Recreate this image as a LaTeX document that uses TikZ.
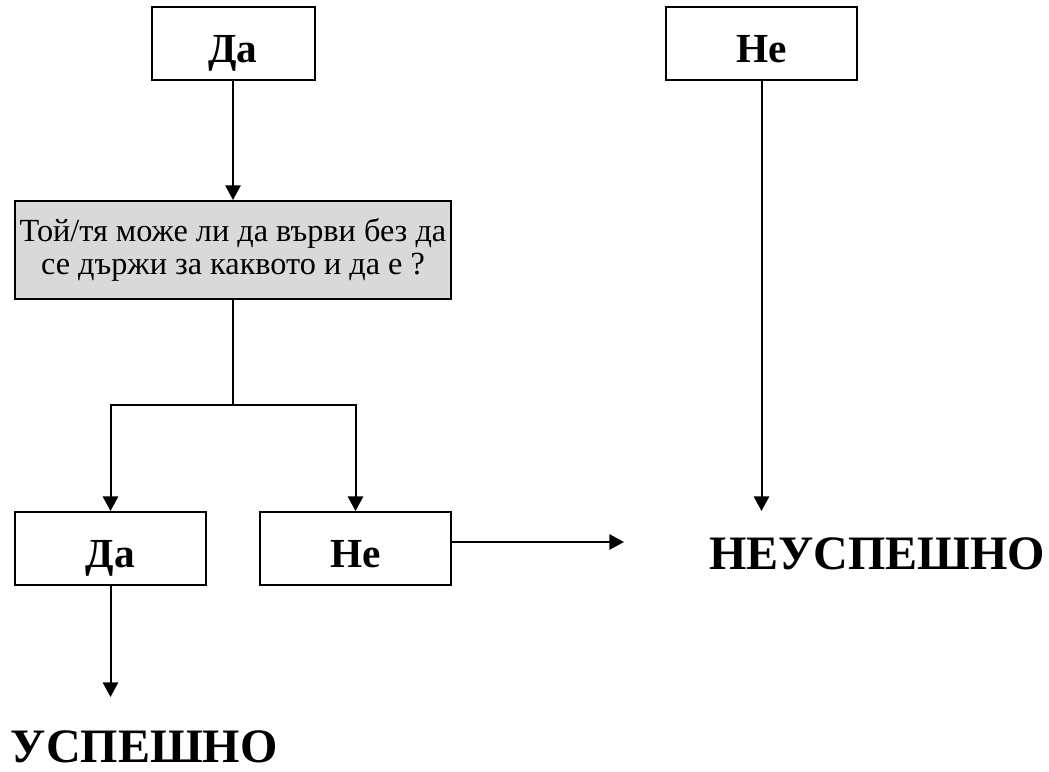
\documentclass[tikz,border=0pt]{standalone}
\usepackage{fontspec}
\setmainfont{Liberation Serif}
\usetikzlibrary{arrows.meta}
\begin{document}
\begin{tikzpicture}[x=0.75pt,y=-0.75pt,
  line width=1.5pt,
  arr/.style={-{Triangle[length=11pt,width=11.5pt]}},
  box/.style={draw,line width=1.5pt,inner sep=0pt,minimum height=54.75pt,
    text height=31.75pt,text depth=4pt,
    font=\fontsize{31}{34}\selectfont\bfseries},
  question/.style={draw,line width=1.5pt,fill=black!15,inner sep=0pt,
    minimum width=327pt,minimum height=73.5pt,align=center,
    font=\fontsize{24.2}{25}\selectfont},
  result/.style={inner sep=0pt,text depth=0pt,
    font=\fontsize{36}{40}\selectfont\bfseries}]
\useasboundingbox (0,0) rectangle (1049,771);

% boxes
\node[box,minimum width=122.25pt] (daTop) at (233,43.5) {Да};
\node[box,minimum width=143.25pt] (neTop) at (761.5,43.5) {Не};
\node[question] (q) at (233,250) {Той/тя може ли да върви без да\\се държи за каквото и да е ?};
\node[box,minimum width=143.25pt] (daBot) at (110.5,548.5) {Да};
\node[box,minimum width=143.25pt] (neBot) at (355.5,548.5) {Не};

% outcomes
\node[result,anchor=base west] (fail) at (708,569) {НЕУСПЕШНО};
\node[result,anchor=base west] (success) at (10,762) {УСПЕШНО};

% free ends of the connectors
\coordinate (split) at (233,405);
\coordinate (failTop) at (761.5,511);
\coordinate (failLeft) at (624,542);
\coordinate (successTop) at (110.5,697);

% connectors
\draw[arr] (daTop.south) -- (daTop.south |- q.north);
\draw (q.south) -- (split);
\draw[arr] (split) -| (daBot.north);
\draw[arr] (split) -| (neBot.north);
\draw[arr] (neTop.south) -- (failTop);
\draw[arr] (failLeft -| neBot.east) -- (failLeft);
\draw[arr] (daBot.south) -- (successTop);
\end{tikzpicture}
\end{document}
